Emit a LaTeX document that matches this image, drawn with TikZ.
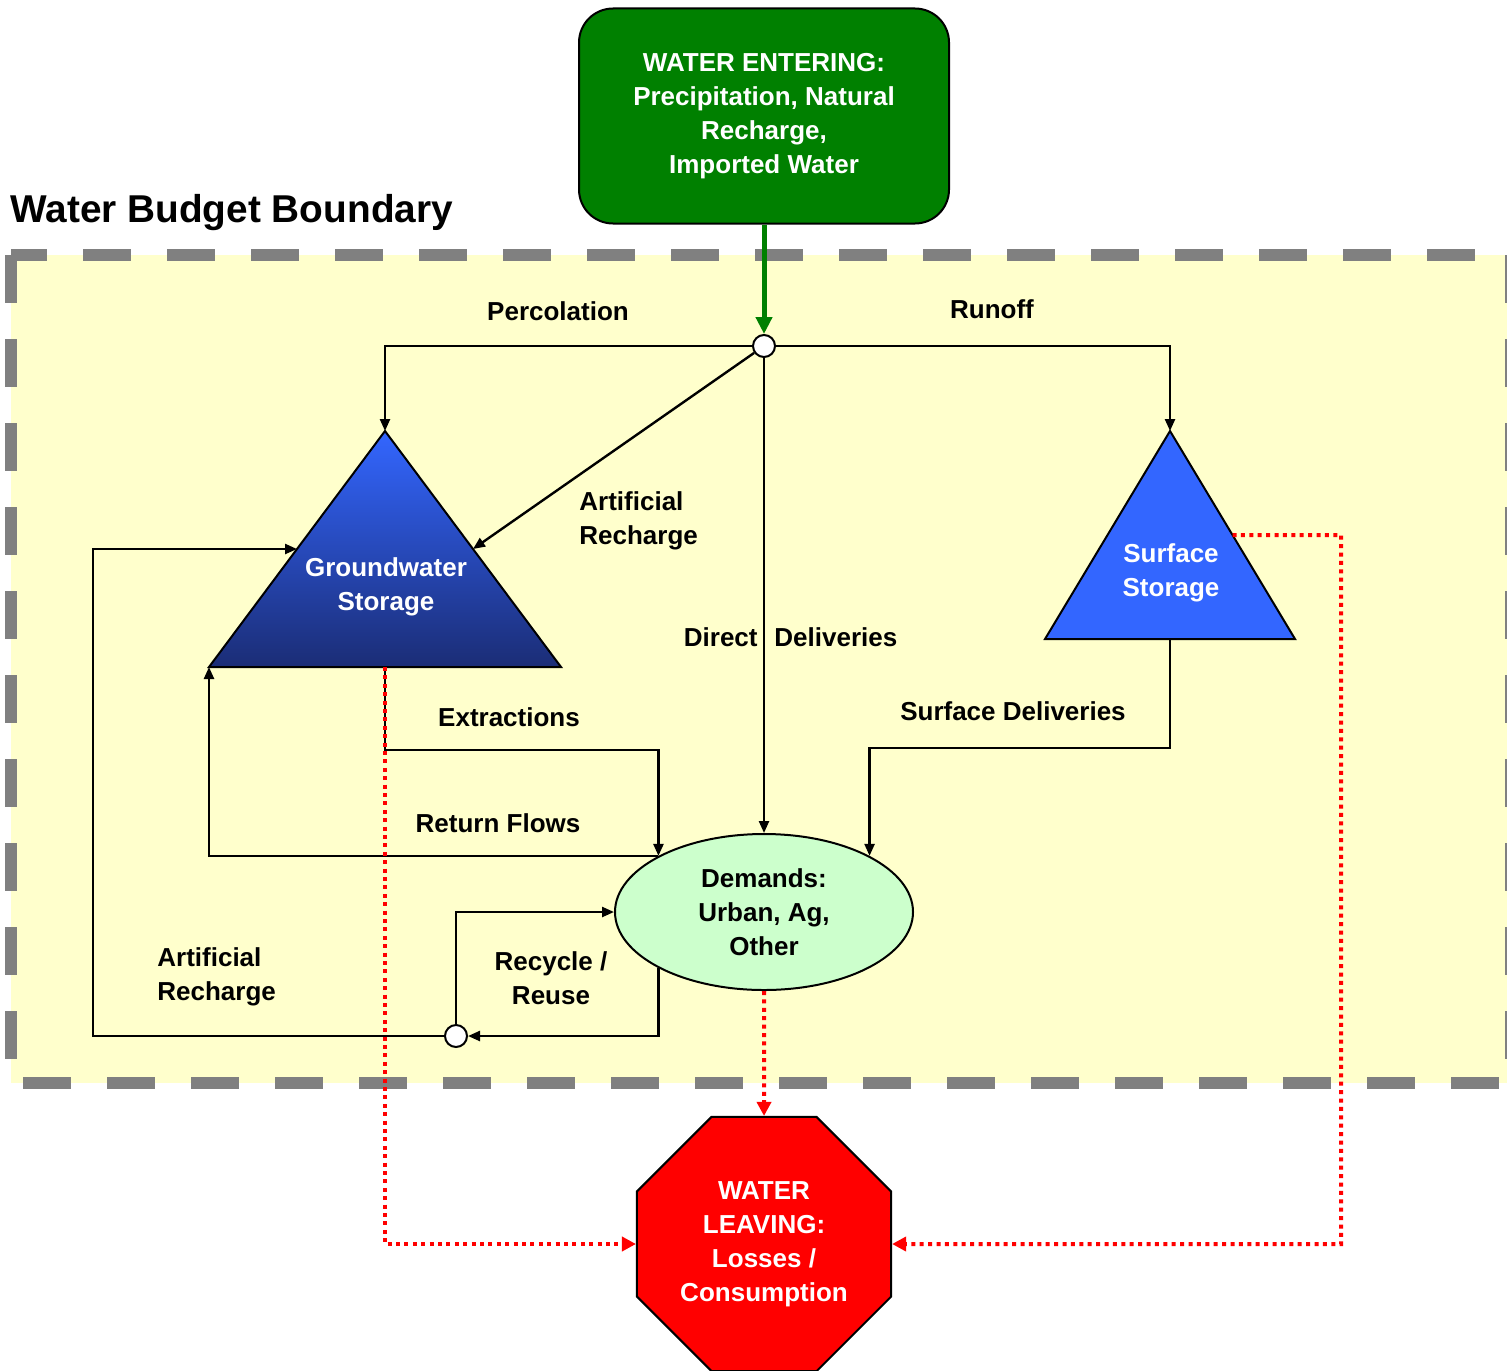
\documentclass[tikz,border=0pt]{standalone}
\usepackage{fontspec}
\setmainfont{Liberation Sans}
\usepackage{xcolor}
\usepackage{tikz}
\usetikzlibrary{arrows.meta,shapes,calc}
\definecolor{budget-yellow}{RGB}{255,255,204}
\definecolor{budget-gray}{RGB}{128,128,128}
\definecolor{inflow-green}{RGB}{0,128,0}
\definecolor{gw-light}{RGB}{51,102,255}
\definecolor{gw-dark}{RGB}{27,45,118}
\definecolor{sw-blue}{RGB}{51,102,255}
\definecolor{demand-green}{RGB}{204,255,204}

\begin{document}
\begin{tikzpicture}[x=0.5pt, y=-0.5pt,
    flowtext/.style = {font=\fontsize{13}{17}\selectfont\bfseries,
      inner sep=0pt, align=center},
    inbox/.style = {shape=rectangle, rounded corners=17pt, draw,
      line width=1pt, fill=inflow-green, text=white, flowtext,
      minimum width=185pt, minimum height=107.5pt},
    outbox/.style = {regular polygon, regular polygon sides=8, draw,
      line width=1pt, fill=red, text=white, flowtext,
      minimum size=137.5pt},
    demand/.style = {shape=ellipse, draw, line width=1pt,
      fill=demand-green, flowtext, minimum width=149pt,
      minimum height=78pt},
    junction/.style = {shape=circle, draw, fill=white, line width=1pt,
      minimum size=11pt, inner sep=0pt},
    boundary/.style = {draw=budget-gray, line width=6pt,
      dash pattern=on 24pt off 18pt},
    flow/.style = {-{Triangle[length=6pt,width=5pt]}, line width=1.2pt},
    inflow/.style = {-{Triangle[length=8.5pt,width=8pt]},
      inflow-green, line width=2.5pt},
    loss/.style = {-{Triangle[length=7pt,width=7pt]}, red,
      line width=2pt, dash pattern=on 2pt off 2.2pt}]

  \useasboundingbox (0,0) rectangle (1507,1370);

  \fill[budget-yellow] (11,255) rectangle (1511,1083);
  \draw[boundary] (11,255) -- (11,1083) -- (1511,1083);
  \draw[boundary] (1511,255) -- (1511,1083);
  \draw[boundary, dash phase=6pt] (11,255) -- (1511,255);

  \node [flowtext, font=\fontsize{19.4}{23}\selectfont\bfseries,
    anchor=base west] (title) at (10,222) {Water Budget Boundary};

  \node [inbox] (enter) at (764,116)
    {WATER ENTERING:\\Precipitation, Natural\\Recharge,\\Imported Water};
  \node [junction] (jn1) at (764,346) {};
  \node [junction] (jn2) at (456,1036) {};
  \node [demand] (dem) at (764,912) {Demands:\\Urban, Ag,\\Other};
  \node [outbox] (leave) at (764,1244)
    {WATER\\LEAVING:\\Losses /\\Consumption};

  \coordinate (gwtop) at (385,431);
  \coordinate (gwleft) at (209,667);
  \coordinate (gwright) at (561,667);
  \coordinate (gwbot) at (385,667);
  \coordinate (gwlm) at ($(gwtop)!0.5!(gwleft)$);
  \coordinate (gwrm) at ($(gwtop)!0.5!(gwright)$);
  \coordinate (sftop) at (1170,431);
  \coordinate (sfleft) at (1045,639);
  \coordinate (sfright) at (1295,639);
  \coordinate (sfbot) at (1170,639);
  \coordinate (sfrm) at ($(sftop)!0.5!(sfright)$);

  \draw[line width=1pt, top color=gw-light, bottom color=gw-dark]
    (gwtop) -- (gwright) -- (gwleft) -- cycle;
  \draw[line width=1pt, fill=sw-blue] (sftop) -- (sfright) -- (sfleft) -- cycle;
  \node [flowtext, text=white] (gwname) at (386,587) {Groundwater\\Storage};
  \node [flowtext, text=white] (sfname) at (1171,573) {Surface\\Storage};

  \draw[inflow] (enter) -- (jn1);
  \draw[flow] (jn1) -| (gwtop);
  \draw[flow] (jn1) -| (sftop);
  \draw[flow] (jn1) -- (gwrm);
  \draw[flow] (jn1) -- (dem);
  \draw[flow] (gwbot) -- (385,750) -| (dem.152);
  \draw[flow] (dem.152) -| (gwleft);
  \draw[flow] (sfbot) -- (1170,748) -| (dem.28);
  \draw[flow] (dem.208) |- (jn2);
  \draw[flow] (jn2) |- (dem.west);
  \draw[flow] (jn2) -| (93,549) -- (gwlm);

  \draw[loss] (gwbot) |- (leave.west);
  \draw[loss] (sfrm) -| (1341,1244) -- (leave.east);
  \draw[loss] (dem.south) -- (leave.north);

  \node [flowtext] (perc) at (558,311) {Percolation};
  \node [flowtext] (runoff) at (992,309) {Runoff};
  \node [flowtext, align=left, anchor=west] (artrech) at (579,521)
    {Artificial\\Recharge};
  \node [flowtext, anchor=east] (direct) at (758,637) {Direct};
  \node [flowtext, anchor=west] (deliv) at (774,637) {Deliveries};
  \node [flowtext] (extr) at (509,717) {Extractions};
  \node [flowtext] (sfdel) at (1013,711) {Surface Deliveries};
  \node [flowtext] (retfl) at (498,823) {Return Flows};
  \node [flowtext] (recyc) at (551,978) {Recycle /\\Reuse};
  \node [flowtext, align=left, anchor=west] (injrech) at (157,977)
    {Artificial\\Recharge};
\end{tikzpicture}
\end{document}
